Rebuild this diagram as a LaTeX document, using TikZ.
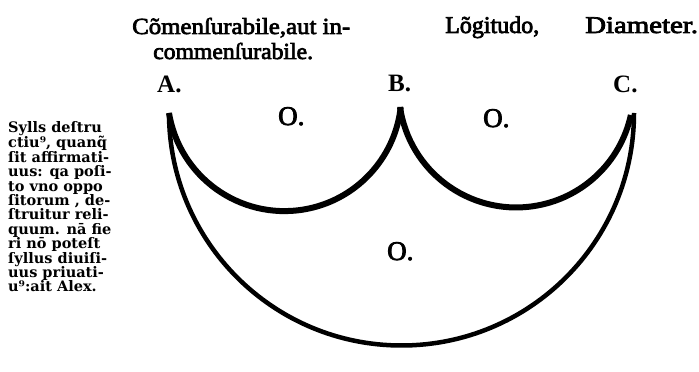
\documentclass[tikz,border=0pt]{standalone}
\usepackage{fontspec}
\setmainfont{Liberation Serif}
\newfontfamily\heavy[FakeBold=3]{Liberation Serif}
\newfontfamily\marg{DejaVu Serif}
\begin{document}
\begin{tikzpicture}[x=1pt,y=1pt,
  lbl/.style={anchor=base west,inner sep=0pt,font=\heavy\fontsize{23}{26}\selectfont},
  olbl/.style={anchor=base west,inner sep=0pt,font=\heavy\fontsize{27}{30}\selectfont},
  pt/.style={anchor=base west,inner sep=0pt,font=\fontsize{25}{28}\selectfont\bfseries},
  smallarc/.style={line width=6pt,line cap=butt},
  bigarc/.style={line width=4.5pt,line cap=butt}]
\useasboundingbox (0,0) rectangle (699,372);
% tips
\coordinate (A) at (169,259);
\coordinate (B) at (400,265);
\coordinate (C) at (633,259);
% arcs
\draw[smallarc] (A) arc[start angle=189.3, end angle=353.6, radius=117];
\draw[smallarc] (B) arc[start angle=188.3, end angle=347.7, radius=117.4];
\draw[bigarc] (A) arc[start angle=180, end angle=360, radius=232.5];
% headings
\node[lbl,xscale=1.08] (t1) at (132,338) {Cõmenſurabile,aut in-};
\node[lbl,xscale=1.03] (t2) at (153,313) {commenſurabile.};
\node[lbl,font=\heavy\fontsize{24}{26}\selectfont] (t3) at (445,339) {Lõgitudo,};
\node[lbl,font=\heavy\fontsize{24}{26}\selectfont,xscale=1.2] (t4) at (585,339) {Diameter.};
% point labels
\node[pt] (la) at (157,279) {A.};
\node[pt] (lb) at (388,280) {B.};
\node[pt] (lc) at (613,279) {C.};
% O labels
\node[olbl] (o1) at (278,247) {O.};
\node[olbl] (o2) at (483,245) {O.};
\node[olbl] (o3) at (387,112) {O.};
% margin note
\node[anchor=north west,inner sep=0pt,align=left,
      font=\marg\bfseries\fontsize{14.5}{14.4}\selectfont] (note) at (8,251)
{Sylls deſtru\\ ctiu⁹, quanq̃\\ ſit affirmati-\\ uus: qa poſi-\\ to vno oppo\\ ſitorum , de-\\ ſtruitur reli-\\ quum. nā fie\\ ri nō poteſt\\ ſyllus diuiſi-\\ uus priuati-\\ u⁹:ait Alex.};
\end{tikzpicture}
\end{document}
